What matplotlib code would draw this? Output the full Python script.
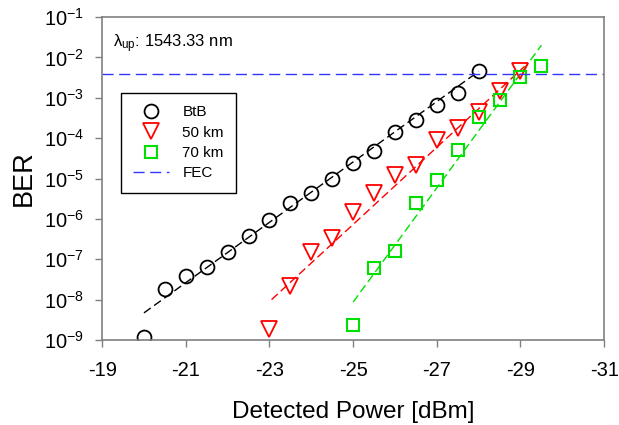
import numpy as np
import matplotlib
matplotlib.use('Agg')
import matplotlib.pyplot as plt

plt.rcParams['font.family'] = ['Liberation Sans', 'DejaVu Sans']
plt.rcParams['mathtext.fontset'] = 'custom'
plt.rcParams['mathtext.rm'] = 'Liberation Sans'
plt.rcParams['mathtext.it'] = 'Liberation Sans:italic'

# measured points
btb_x = [-20, -20.5, -21, -21.5, -22, -22.5, -23, -23.5, -24, -24.5, -25, -25.5, -26, -26.5, -27, -27.5, -28]
btb_y = [1.2e-9, 1.8e-8, 3.8e-8, 6.3e-8, 1.5e-7, 3.8e-7, 9.3e-7, 2.5e-6, 4.3e-6, 1.0e-5, 2.4e-5, 4.7e-5,
         1.4e-4, 2.8e-4, 6.6e-4, 1.3e-3, 4.6e-3]
km50_x = [-23, -23.5, -24, -24.5, -25, -25.5, -26, -26.5, -27, -27.5, -28, -28.5, -29]
km50_y = [1.9e-9, 2.2e-8, 1.5e-7, 3.3e-7, 1.5e-6, 4.3e-6, 1.2e-5, 2.1e-5, 9.0e-5, 1.8e-4, 4.4e-4, 1.5e-3, 4.6e-3]
km70_x = [-25, -25.5, -26, -26.5, -27, -27.5, -28, -28.5, -29, -29.5]
km70_y = [2.3e-9, 6.0e-8, 1.6e-7, 2.5e-6, 9.0e-6, 5.0e-5, 3.3e-4, 8.7e-4, 3.2e-3, 6.0e-3]

# fitted lines (endpoints)
fit_btb_x = [-20, -28]
fit_btb_y = [4.7e-9, 4.5e-3]
fit_50_x = [-23.05, -29.1]
fit_50_y = [1.0e-8, 6.0e-3]
fit_70_x = [-25.0, -29.5]
fit_70_y = [8.7e-9, 2.0e-2]

fec = 3.8e-3

xticks = [-19, -21, -23, -25, -27, -29, -31]
yticks = [1e-9, 1e-8, 1e-7, 1e-6, 1e-5, 1e-4, 1e-3, 1e-2, 1e-1]

fig = plt.figure(figsize=(6.19, 4.25), dpi=100)
ax = fig.add_axes([0.165, 0.2, 0.811, 0.76])

ax.plot(fit_btb_x, fit_btb_y, color='black', lw=1, dashes=(6, 3))
ax.plot(fit_50_x, fit_50_y, color='red', lw=1, dashes=(6, 3))
ax.plot(fit_70_x, fit_70_y, color='#00e000', lw=1, dashes=(6, 3))

ax.plot(btb_x, btb_y, 'o', ms=10, mfc='none', mec='black', mew=1.3, label='BtB')
ax.plot(km50_x, km50_y, 'v', ms=11, mfc='none', mec='red', mew=1.3, label='50 km')
ax.plot(km70_x, km70_y, 's', ms=9, mfc='none', mec='#00e000', mew=1.5, label='70 km')
ax.axhline(fec, color='#3333ff', lw=1, dashes=(8, 4), label='FEC')

ax.set_yscale('log')
ax.set_xlim(-19, -31)
ax.set_ylim(1e-9, 1e-1)
ax.set_xticks(xticks)
ax.set_xticklabels([str(t) for t in xticks], fontsize=14.5)
ax.set_yticks(yticks)
ax.set_yticklabels(['$\\mathregular{10^{%d}}$' % int(round(np.log10(t))) for t in yticks], fontsize=14.5)
ax.yaxis.set_minor_locator(matplotlib.ticker.NullLocator())
ax.tick_params(direction='out', length=5, width=1, color='#808080')
ax.tick_params(axis='x', pad=10)
ax.tick_params(axis='y', pad=8)
for s in ax.spines.values():
    s.set_color('#808080')
    s.set_linewidth(1.2)

ax.set_xlabel('Detected Power [dBm]', fontsize=17.5, labelpad=15)
ax.set_ylabel('BER', fontsize=19.5, labelpad=5)

ax.text(-19.26, 1.75e-2, '$\\mathregular{\\lambda_{up}}$: 1543.33 nm', fontsize=12, va='baseline')

leg = ax.legend(loc='upper left', bbox_to_anchor=(0.038, 0.765), borderaxespad=0, fontsize=11,
                frameon=True, fancybox=False, edgecolor='black', framealpha=1, handlelength=2.35,
                borderpad=0.8, labelspacing=0.42, handletextpad=0.85)
leg.get_frame().set_linewidth(1)

fig.savefig('out.png', dpi=100)
